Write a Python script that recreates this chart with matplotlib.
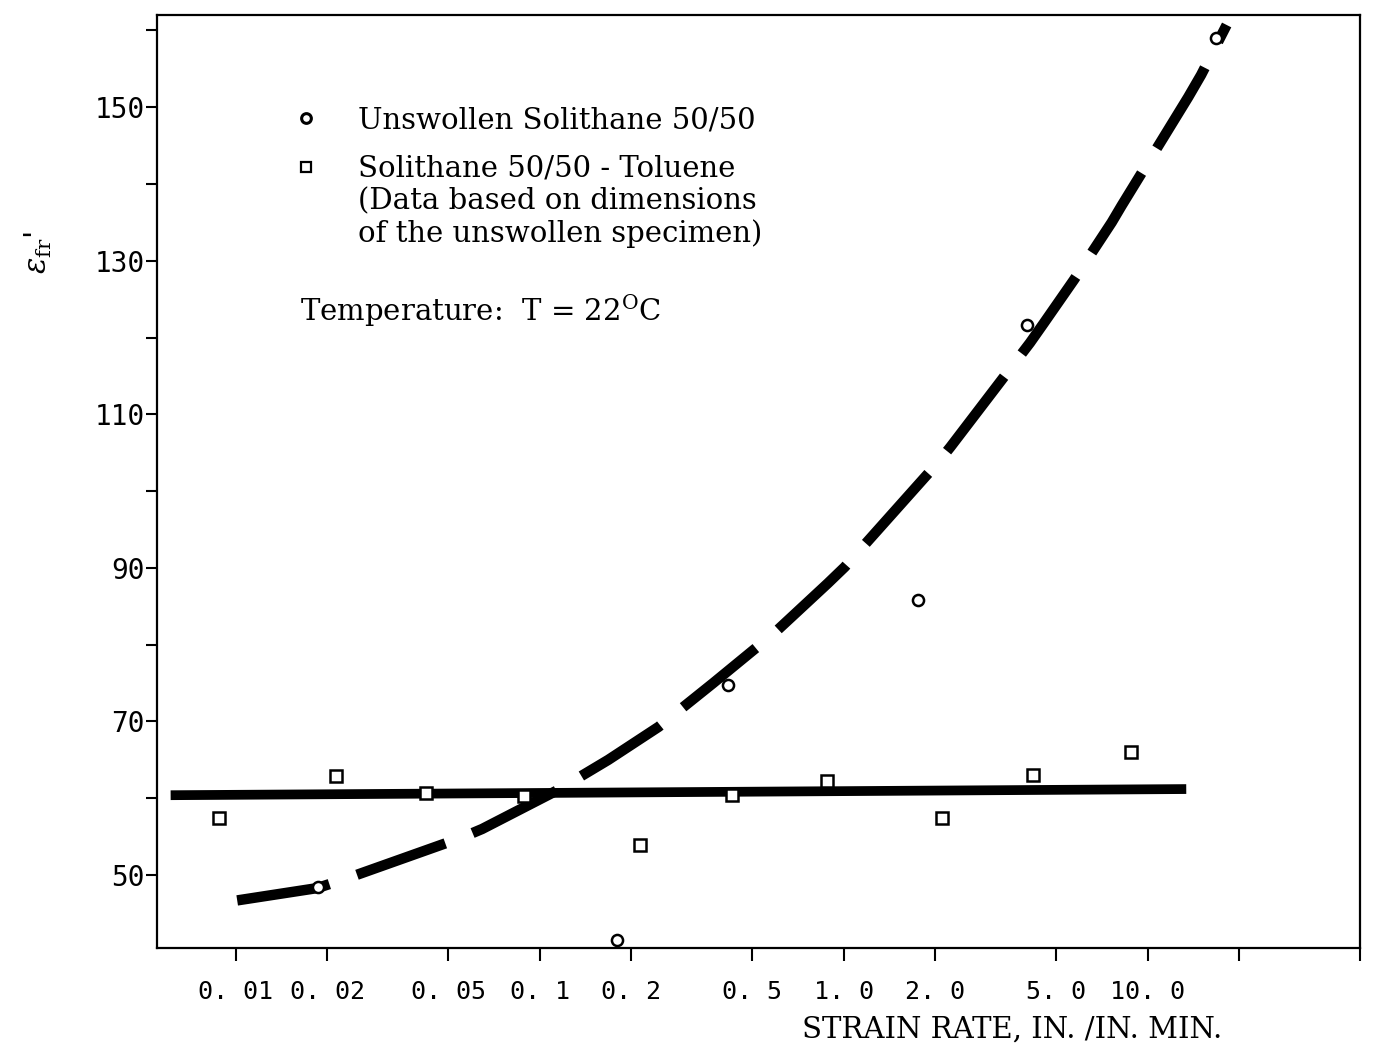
import matplotlib
matplotlib.use("Agg")
import matplotlib.pyplot as plt
from matplotlib.lines import Line2D

# Unswollen Solithane 50/50 (open circles)
unswollen_rate = [0.0186, 0.18, 0.417, 1.75, 4.0, 16.8]
unswollen_strain = [48.4, 41.5, 74.7, 85.8, 121.6, 159.0]

# Solithane 50/50 - Toluene (open squares)
toluene_rate = [0.0088, 0.0213, 0.0423, 0.0888, 0.213, 0.43, 0.88, 2.11, 4.2, 8.8]
toluene_strain = [57.4, 62.9, 60.7, 60.3, 53.9, 60.4, 62.2, 57.4, 63.0, 66.0]

# dashed curve drawn through the unswollen data
curve_rate = [0.0101, 0.0185, 0.0233, 0.0555, 0.0646, 0.115, 0.168, 0.246,
              0.372, 0.594, 0.887, 1.007, 2.03, 2.24, 4.10, 4.56, 5.72,
              7.62, 8.22, 13.6, 15.0, 18.2]
curve_strain = [46.7, 48.3, 49.6, 54.9, 56.0, 61.1, 65.0, 69.3,
                75.0, 81.6, 88.0, 90.1, 103.6, 105.7, 119.3, 121.9, 127.5,
                135.0, 137.2, 151.3, 154.2, 160.7]

# solid line through the toluene data
flat_rate = [0.0061, 13.4]
flat_strain = [60.4, 61.2]

xticks = [0.01, 0.02, 0.05, 0.1, 0.2, 0.5, 1.0, 2.0, 5.0, 10.0, 20.0, 50.0]
xtick_labels = ["0. 01", "0. 02", "0. 05", "0. 1", "0. 2", "0. 5",
                "1. 0", "2. 0", "5. 0", "10. 0", "", ""]
yticks = [50, 60, 70, 80, 90, 100, 110, 120, 130, 140, 150, 160]
ytick_labels = ["50", "", "70", "", "90", "", "110", "", "130", "", "150", ""]

plt.rcParams["mathtext.fontset"] = "dejavuserif"
serif = "DejaVu Serif"
mono = "DejaVu Sans Mono"

fig = plt.figure(figsize=(13.83, 10.48), dpi=100)
ax = fig.add_axes([0.1135, 0.0954, 0.8699, 0.8903])

# fitted lines
ax.plot(curve_rate, curve_strain, color="black", linewidth=7.5,
        dashes=(9, 2.8), dash_capstyle="butt", zorder=2)
ax.plot(flat_rate, flat_strain, color="black", linewidth=7.0,
        solid_capstyle="butt", zorder=2)

# data points
ax.plot(unswollen_rate, unswollen_strain, linestyle="none", marker="o",
        markersize=8, markerfacecolor="white", markeredgecolor="black",
        markeredgewidth=1.8, zorder=3)
ax.plot(toluene_rate, toluene_strain, linestyle="none", marker="s",
        markersize=8, markerfacecolor="white", markeredgecolor="black",
        markeredgewidth=1.8, zorder=3)

# axes
ax.set_xscale("log")
ax.set_xlim(0.0055, 48)
ax.set_ylim(40.5, 162)
ax.set_xticks(xticks)
ax.set_xticklabels(xtick_labels, fontfamily=mono, fontsize=18)
ax.set_yticks(yticks)
ax.set_yticklabels(ytick_labels, fontfamily=mono, fontsize=20)
ax.minorticks_off()
ax.tick_params(axis="x", direction="out", length=9, width=1.5, pad=14)
ax.tick_params(axis="y", direction="out", length=8, width=1.5, pad=1)
for side in ax.spines:
    ax.spines[side].set_linewidth(1.6)

ax.set_xlabel("STRAIN RATE, IN. /IN. MIN.", fontfamily=serif, fontsize=21)
ax.xaxis.set_label_coords(0.711, -0.072)
ax.set_ylabel(r"$\epsilon_{\mathrm{fr}}$'", fontsize=22, rotation=90)
ax.yaxis.set_label_coords(-0.086, 0.745)

# legend, split in two so the square sits on the first line of its text
circle = Line2D([], [], linestyle="none", marker="o", markersize=7,
                markerfacecolor="white", markeredgecolor="black",
                markeredgewidth=2.2)
square = Line2D([], [], linestyle="none", marker="s", markersize=7,
                markerfacecolor="white", markeredgecolor="black",
                markeredgewidth=1.6)
blank = Line2D([], [], linestyle="none")

leg_opts = dict(loc="upper left", frameon=False, borderpad=0, borderaxespad=0,
                handlelength=1.0, handletextpad=1.27,
                prop={"family": serif, "size": 21})
leg1 = ax.legend([circle], ["Unswollen Solithane 50/50"],
                 bbox_to_anchor=(0.112, 0.902), **leg_opts)
ax.add_artist(leg1)
ax.legend([square, blank, blank],
          ["Solithane 50/50 - Toluene", "(Data based on dimensions",
           "of the unswollen specimen)"],
          bbox_to_anchor=(0.112, 0.850), labelspacing=0.15, **leg_opts)

ax.text(0.119, 0.683, r"Temperature:  T = 22$^{\mathrm{O}}$C",
        transform=ax.transAxes, fontfamily=serif, fontsize=21, va="center")

fig.savefig("out.png", dpi=100)
